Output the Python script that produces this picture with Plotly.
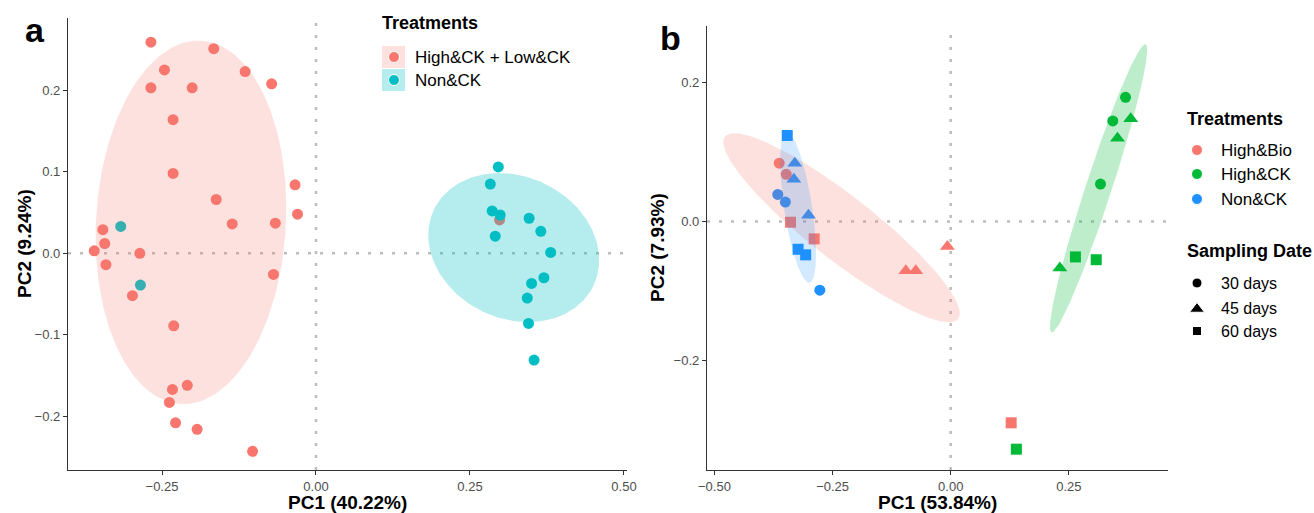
import numpy as np
import plotly.graph_objects as go

# ---------------- Panel a data (PC1, PC2) ----------------
a_red_x = [-0.268, -0.166, -0.246, -0.115, -0.268, -0.201, -0.072, -0.232, -0.232, -0.034,
           -0.162, -0.030, -0.136, -0.066, -0.346, -0.343, -0.360, -0.286, -0.341, -0.069,
           -0.298, -0.231, -0.209, -0.233, -0.238, -0.228, -0.193, -0.103, 0.298]
a_red_y = [0.259, 0.251, 0.225, 0.223, 0.203, 0.203, 0.208, 0.164, 0.098, 0.084,
           0.066, 0.048, 0.036, 0.037, 0.029, 0.012, 0.003, 0.000, -0.014, -0.026,
           -0.052, -0.089, -0.162, -0.167, -0.183, -0.208, -0.216, -0.243, 0.041]
a_teal_x = [-0.317, -0.285, 0.296, 0.283, 0.286, 0.299, 0.346, 0.365, 0.291, 0.381,
            0.370, 0.350, 0.343, 0.345, 0.354]
a_teal_y = [0.033, -0.039, 0.106, 0.085, 0.052, 0.047, 0.043, 0.027, 0.021, 0.001,
            -0.030, -0.037, -0.055, -0.086, -0.131]
a_groups = ["High&CK + Low&CK", "Non&CK"]

# ---------------- Panel b data ----------------
b_treatments = ["High&Bio", "High&CK", "Non&CK"]
b_dates = ["30 days", "45 days", "60 days"]
# High&Bio
bio_30_x = [-0.363, -0.348]
bio_30_y = [0.084, 0.068]
bio_45_x = [-0.095, -0.074, -0.007]
bio_45_y = [-0.071, -0.071, -0.036]
bio_60_x = [-0.339, -0.289, 0.128]
bio_60_y = [-0.001, -0.025, -0.290]
# High&CK
hck_30_x = [0.370, 0.343, 0.317]
hck_30_y = [0.179, 0.145, 0.054]
hck_45_x = [0.381, 0.353, 0.231]
hck_45_y = [0.148, 0.120, -0.067]
hck_60_x = [0.264, 0.308, 0.139]
hck_60_y = [-0.051, -0.055, -0.328]
# Non&CK
non_30_x = [-0.366, -0.350, -0.277]
non_30_y = [0.039, 0.028, -0.099]
non_45_x = [-0.330, -0.332, -0.301]
non_45_y = [0.084, 0.061, 0.009]
non_60_x = [-0.346, -0.323, -0.307]
non_60_y = [0.124, -0.040, -0.048]

# confidence-ellipse estimates: centre and two conjugate semi-axes (data units)
ell_a_red = (-0.203, 0.038, 0.0166, 0.2229, 0.1539, -0.0065)
ell_a_teal = (0.321, 0.007, 0.1296, -0.0465, 0.0495, 0.0787)
ell_b_bio = (-0.231, -0.009, 0.2468, -0.1313, 0.0417, 0.0363)
ell_b_non = (-0.323, 0.020, -0.0243, 0.1082, 0.0293, 0.0031)
ell_b_hck = (0.313, 0.048, 0.0995, 0.2075, 0.0262, -0.0058)

RED, TEAL, GREEN, BLUE = "#F8766D", "#00BFC4", "#00BA38", "#1E90FF"
FONT = "Liberation Sans, Arial, sans-serif"
W, H = 1314, 513


def ellipse(p, n=240):
    cx, cy, ux, uy, vx, vy = p
    t = np.linspace(0, 2 * np.pi, n)
    return cx + ux * np.cos(t) + vx * np.sin(t), cy + uy * np.cos(t) + vy * np.sin(t)


fig = go.Figure()

# panel a points
fig.add_trace(go.Scatter(x=a_red_x, y=a_red_y, mode="markers", xaxis="x", yaxis="y",
                         marker=dict(color=RED, size=11), showlegend=False))
fig.add_trace(go.Scatter(x=a_teal_x, y=a_teal_y, mode="markers", xaxis="x", yaxis="y",
                         marker=dict(color=TEAL, size=11), showlegend=False))
for p, fc in [(ell_a_red, "rgba(248,118,109,0.22)"), (ell_a_teal, "rgba(0,191,196,0.29)")]:
    ex, ey = ellipse(p)
    fig.add_trace(go.Scatter(x=ex, y=ey, mode="lines", fill="toself", fillcolor=fc,
                             line=dict(width=0), xaxis="x", yaxis="y", showlegend=False,
                             hoverinfo="skip"))

# panel b points
sym = {"30 days": "circle", "45 days": "triangle-up", "60 days": "square"}
size = {"30 days": 11, "45 days": 13, "60 days": 11}
series = [
    (BLUE, "30 days", non_30_x, non_30_y), (BLUE, "45 days", non_45_x, non_45_y),
    (BLUE, "60 days", non_60_x, non_60_y),
    (RED, "30 days", bio_30_x, bio_30_y), (RED, "45 days", bio_45_x, bio_45_y),
    (RED, "60 days", bio_60_x, bio_60_y),
    (GREEN, "30 days", hck_30_x, hck_30_y), (GREEN, "45 days", hck_45_x, hck_45_y),
    (GREEN, "60 days", hck_60_x, hck_60_y),
]
for col, d, xs, ys in series:
    fig.add_trace(go.Scatter(x=xs, y=ys, mode="markers", xaxis="x2", yaxis="y2",
                             marker=dict(color=col, size=size[d], symbol=sym[d]),
                             showlegend=False))
for p, fc in [(ell_b_bio, "rgba(248,118,109,0.22)"), (ell_b_non, "rgba(30,144,255,0.2)"),
              (ell_b_hck, "rgba(0,186,56,0.26)")]:
    ex, ey = ellipse(p)
    fig.add_trace(go.Scatter(x=ex, y=ey, mode="lines", fill="toself", fillcolor=fc,
                             line=dict(width=0), xaxis="x2", yaxis="y2", showlegend=False,
                             hoverinfo="skip"))

# legend markers on a pixel-space overlay axis
leg_pts = [
    (394, 57, RED, "circle", 11), (394, 80, TEAL, "circle", 11),
    (1197, 150, RED, "circle", 11), (1197, 174, GREEN, "circle", 11),
    (1197, 199, BLUE, "circle", 11),
    (1197, 283, "black", "circle", 10), (1197, 309, "black", "triangle-up", 13),
    (1197, 331, "black", "square", 9),
]
fig.add_trace(go.Scatter(x=[p[0] for p in leg_pts], y=[p[1] for p in leg_pts], mode="markers",
                         xaxis="x3", yaxis="y3", showlegend=False, hoverinfo="skip",
                         marker=dict(color=[p[2] for p in leg_pts],
                                     symbol=[p[3] for p in leg_pts],
                                     size=[p[4] for p in leg_pts], opacity=1)))

axis_common = dict(showline=True, linecolor="#333333", linewidth=1.3, ticks="outside",
                   ticklen=4, tickwidth=1, tickcolor="#333333", showgrid=False,
                   zeroline=False, automargin=False,
                   tickfont=dict(family=FONT, size=13, color="#4D4D4D"))

fig.update_layout(
    template="none",
    width=W, height=H, margin=dict(l=0, r=0, t=0, b=0, pad=0, autoexpand=False),
    paper_bgcolor="white", plot_bgcolor="rgba(0,0,0,0)", showlegend=False,
    xaxis=dict(domain=[68 / W, 627 / W], range=[-0.4026, 0.5049], anchor="y",
               tickvals=[-0.25, 0, 0.25, 0.5], tickformat=".2f", **axis_common),
    yaxis=dict(domain=[1 - 470 / H, 1 - 18 / H], range=[-0.2659, 0.2887], anchor="x",
               tickvals=[-0.2, -0.1, 0, 0.1, 0.2], tickformat=".1f", **axis_common),
    xaxis2=dict(domain=[707 / W, 1168 / W], range=[-0.5158, 0.4599], anchor="y2",
                tickvals=[-0.5, -0.25, 0, 0.25], tickformat=".2f", **axis_common),
    yaxis2=dict(domain=[1 - 470 / H, 1 - 26 / H], range=[-0.358, 0.2817], anchor="x2",
                tickvals=[-0.2, 0, 0.2], tickformat=".1f", **axis_common),
    xaxis3=dict(domain=[0, 1], range=[0, W], visible=False, anchor="y3", fixedrange=True,
                automargin=False),
    yaxis3=dict(domain=[0, 1], range=[H, 0], visible=False, anchor="x3", fixedrange=True,
                automargin=False),
)

dot = dict(color="#BDBDBD", width=2.5, dash="3px,9px")
shapes = []
for xr, yr in [("x", "y"), ("x2", "y2")]:
    shapes.append(dict(type="line", xref=xr, yref=yr + " domain", x0=0, x1=0, y0=0, y1=1,
                       line=dot, layer="below"))
    shapes.append(dict(type="line", xref=xr + " domain", yref=yr, x0=0, x1=1, y0=0, y1=0,
                       line=dot, layer="below"))
# legend key backgrounds (panel a)
shapes.append(dict(type="rect", xref="x3", yref="y3", x0=382, x1=405, y0=46, y1=68,
                   fillcolor="rgba(248,118,109,0.22)", line=dict(width=0), layer="below"))
shapes.append(dict(type="rect", xref="x3", yref="y3", x0=382, x1=405, y0=69, y1=91,
                   fillcolor="rgba(0,191,196,0.29)", line=dict(width=0), layer="below"))
fig.update_layout(shapes=shapes)


def txt(x, y, s, size, bold=False, anchor="left", angle=0, color="black"):
    fig.add_annotation(x=x, y=y, xref="x3", yref="y3", text=f"<b>{s}</b>" if bold else s,
                       showarrow=False, xanchor=anchor, yanchor="middle", textangle=angle,
                       font=dict(family=FONT, size=size, color=color))


txt(35, 30, "a", 34, bold=True, anchor="center")
txt(670, 38, "b", 34, bold=True, anchor="center")
txt(347, 502, "PC1 (40.22%)", 19, bold=True, anchor="center")
txt(937, 502, "PC1 (53.84%)", 19, bold=True, anchor="center")
txt(24, 244, "PC2 (9.24%)", 19, bold=True, anchor="center", angle=-90)
txt(657, 248, "PC2 (7.93%)", 19, bold=True, anchor="center", angle=-90)

txt(380, 23, "Treatments", 18, bold=True)
for yy, lab in zip([57, 80], a_groups):
    txt(413, yy, lab, 17)
txt(1185, 119, "Treatments", 18, bold=True)
for yy, lab in zip([150, 174, 199], b_treatments):
    txt(1219, yy, lab, 17)
txt(1185, 251, "Sampling Date", 18, bold=True)
for yy, lab in zip([283, 308, 331], b_dates):
    txt(1219, yy, lab, 16)

fig.write_html("out.html")
